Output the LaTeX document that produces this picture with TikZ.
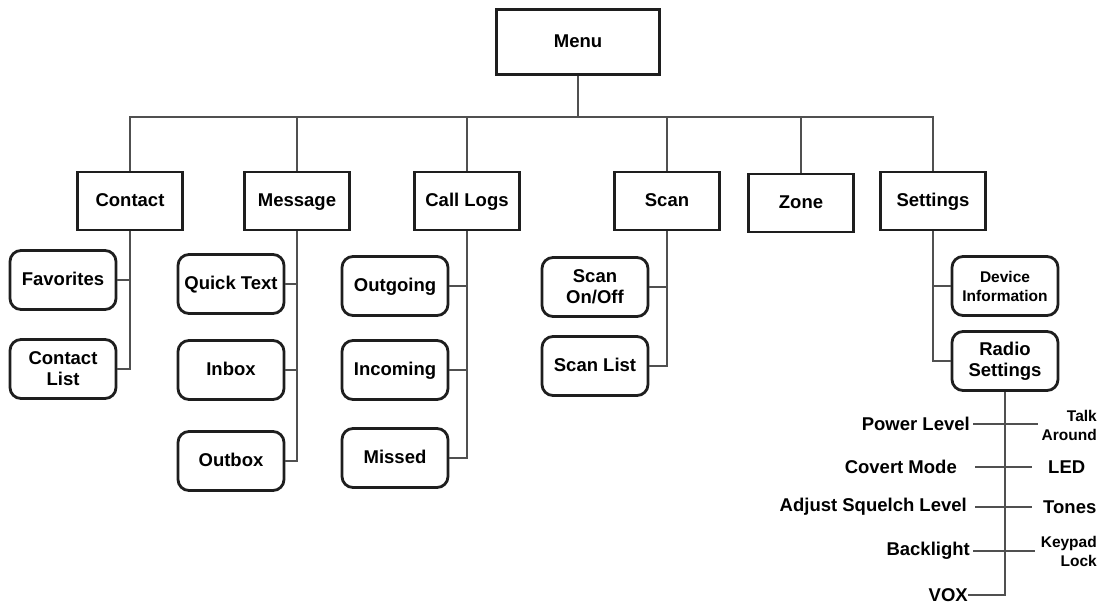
\documentclass[tikz,border=0pt]{standalone}
\usepackage{fontspec}
\setmainfont{Liberation Sans}
\definecolor{linegray}{RGB}{80,80,80}
\definecolor{boxline}{RGB}{30,30,30}

\begin{document}
\begin{tikzpicture}[x=1pt,y=-1pt,
    every node/.style={font=\bfseries\fontsize{18.5}{21}\selectfont, align=center},
    topbox/.style={draw=boxline, line width=2.8pt, minimum width=105pt, minimum height=58pt, inner sep=0pt,
      text height=13pt, text depth=3pt},
    subbox/.style={topbox, rounded corners=11pt, minimum width=106pt, minimum height=59pt},
    twoline/.style={text height=, text depth=},
    lbl/.style={inner sep=0pt},
    small/.style={font=\bfseries\fontsize{15.5}{19}\selectfont},
    conn/.style={draw=linegray, line width=2.6pt}]
    \useasboundingbox (0,0) rectangle (1103,605);

    % top level
    \node[topbox, minimum width=163pt, minimum height=65pt] (menu) at (578,42) {Menu};
    \node[topbox] (contact) at (130,201) {Contact};
    \node[topbox] (message) at (297,201) {Message};
    \node[topbox] (calllogs) at (467,201) {Call Logs};
    \node[topbox] (scan) at (667,201) {Scan};
    \node[topbox] (zone) at (801,203) {Zone};
    \node[topbox] (settings) at (933,201) {Settings};
    \coordinate (bus) at (578,117);

    \draw[conn] (menu.south) -- (bus);
    \draw[conn] (contact.north) |- (bus) -| (settings.north);
    \foreach \n in {message,calllogs,scan,zone}
      \draw[conn] (\n.north) -- (\n.north |- bus);

    % second level
    \node[subbox] (fav) at (63,280) {Favorites};
    \node[subbox, twoline] (clist) at (63,369) {Contact\\List};
    \node[subbox] (qtext) at (231,284) {Quick Text};
    \node[subbox] (inbox) at (231,370) {Inbox};
    \node[subbox] (outbox) at (231,461) {Outbox};
    \node[subbox] (outgo) at (395,286) {Outgoing};
    \node[subbox] (incom) at (395,370) {Incoming};
    \node[subbox] (missed) at (395,458) {Missed};
    \node[subbox, twoline] (scanon) at (595,287) {Scan\\On/Off};
    \node[subbox] (scanlist) at (595,366) {Scan List};
    \node[subbox, twoline, small] (devinfo) at (1005,286) {Device\\Information};
    \node[subbox, twoline] (radio) at (1005,361) {Radio\\Settings};

    \draw[conn] (contact.south) |- (clist.east);
    \draw[conn] (fav.east) -- (fav.east -| contact);
    \draw[conn] (message.south) |- (outbox.east);
    \foreach \n in {qtext,inbox}
      \draw[conn] (\n.east) -- (\n.east -| message);
    \draw[conn] (calllogs.south) |- (missed.east);
    \foreach \n in {outgo,incom}
      \draw[conn] (\n.east) -- (\n.east -| calllogs);
    \draw[conn] (scan.south) |- (scanlist.east);
    \draw[conn] (scanon.east) -- (scanon.east -| scan);
    \draw[conn] (settings.south) |- (radio.west);
    \draw[conn] (devinfo.west) -- (devinfo.west -| settings);

    % radio settings list
    \node[lbl, anchor=east] (power) at (970,424) {Power Level};
    \node[lbl, anchor=east] (covert) at (957,467) {Covert Mode};
    \node[lbl, anchor=east] (squelch) at (967,507) {Adjust Squelch Level};
    \node[lbl, anchor=east] (backlight) at (970,551) {Backlight};
    \node[lbl, anchor=east] (vox) at (968,595) {VOX};
    \node[lbl, small, anchor=east, align=right] (talk) at (1097,425) {Talk\\Around};
    \node[lbl, anchor=west] (led) at (1048,467) {LED};
    \node[lbl, anchor=west] (tones) at (1043,507) {Tones};
    \node[lbl, small, anchor=east, align=right] (keypad) at (1097,551) {Keypad\\Lock};

    \draw[conn] (radio.south) |- (vox.east);
    \draw[conn, shorten <=3pt, shorten >=4pt] (power.east) -- (power.east -| talk.west);
    \draw[conn, shorten <=18pt, shorten >=16pt] (covert.east) -- (led.west);
    \draw[conn, shorten <=8pt, shorten >=11pt] (squelch.east) -- (tones.west);
    \draw[conn, shorten <=3pt, shorten >=6pt] (backlight.east) -- (backlight.east -| keypad.west);
  \end{tikzpicture}
\end{document}
